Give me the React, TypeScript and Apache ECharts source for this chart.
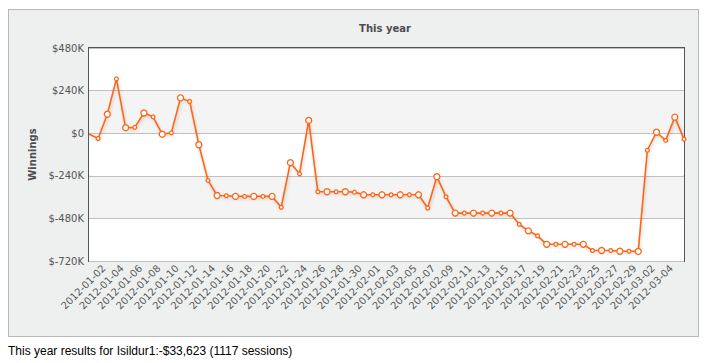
import React, { useEffect, useRef } from "react";
import * as echarts from "echarts";

const categories: string[] = [
  "2011-12-31",
  "2012-01-01", "2012-01-02", "2012-01-03", "2012-01-04", "2012-01-05", "2012-01-06", "2012-01-07", "2012-01-08",
  "2012-01-09", "2012-01-10", "2012-01-11", "2012-01-12", "2012-01-13", "2012-01-14", "2012-01-15", "2012-01-16",
  "2012-01-17", "2012-01-18", "2012-01-19", "2012-01-20", "2012-01-21", "2012-01-22", "2012-01-23", "2012-01-24",
  "2012-01-25", "2012-01-26", "2012-01-27", "2012-01-28", "2012-01-29", "2012-01-30", "2012-01-31",
  "2012-02-01", "2012-02-02", "2012-02-03", "2012-02-04", "2012-02-05", "2012-02-06", "2012-02-07", "2012-02-08",
  "2012-02-09", "2012-02-10", "2012-02-11", "2012-02-12", "2012-02-13", "2012-02-14", "2012-02-15", "2012-02-16",
  "2012-02-17", "2012-02-18", "2012-02-19", "2012-02-20", "2012-02-21", "2012-02-22", "2012-02-23", "2012-02-24",
  "2012-02-25", "2012-02-26", "2012-02-27", "2012-02-28", "2012-02-29",
  "2012-03-01", "2012-03-02", "2012-03-03", "2012-03-04", "2012-03-05",
];

const winnings: number[] = [
  -4000, -29500, 107000, 306000, 31000, 33000, 114000, 92000, -5500, 2000,
  199000, 179000, -65000, -266000, -351000, -352000, -356000, -356000, -356000, -356000,
  -356000, -417000, -166000, -229000, 72000, -330000, -330000, -330000, -330000, -332000,
  -347000, -347000, -347000, -347000, -347000, -347000, -347000, -421000, -245000, -358000,
  -450000, -450000, -450000, -450000, -450000, -450000, -450000, -513000, -550000, -578000,
  -626000, -626000, -626000, -626000, -626000, -661000, -661000, -661000, -665000, -665000,
  -666000, -96000, 5500, -40600, 90500, -33623,
];

const yTicks = { min: -720000, max: 480000, interval: 240000 };

const chartTitle = "This year";
const yAxisTitle = "Winnings";
const footerText = "This year results for Isildur1:-$33,623 (1117 sessions)";

const FONT = '"DejaVu Sans", Verdana, sans-serif';

export default function App() {
  const ref = useRef<HTMLDivElement>(null);

  useEffect(() => {
    if (!ref.current) return;
    const chart = echarts.init(ref.current, undefined, { renderer: "svg" });
    chart.setOption({
      animation: false,
      backgroundColor: "#eeefef",
      title: {
        text: chartTitle,
        left: 376,
        top: 13,
        padding: 0,
        textAlign: "center",
        textStyle: { fontFamily: FONT, fontSize: 10, fontWeight: "bold", color: "#4d4d4d" },
      },
      grid: {
        left: 80,
        right: 14,
        top: 38,
        height: 213,
        show: true,
        backgroundColor: "#ffffff",
        borderColor: "#555555",
        borderWidth: 2,
        containLabel: false,
      },
      xAxis: {
        type: "category",
        data: categories,
        boundaryGap: false,
        axisLine: { show: false },
        axisTick: { show: false },
        splitLine: { show: false },
        axisLabel: {
          rotate: 45,
          interval: (index: number) => index > 0 && index % 2 === 0,
          margin: 9,
          align: "right",
          verticalAlign: "bottom",
          fontFamily: FONT,
          fontSize: 10,
          color: "#5a5a5a",
        },
      },
      yAxis: {
        type: "value",
        min: yTicks.min,
        max: yTicks.max,
        interval: yTicks.interval,
        name: yAxisTitle,
        nameLocation: "middle",
        nameGap: 51,
        nameRotate: 90,
        nameTextStyle: { fontFamily: FONT, fontSize: 10, fontWeight: "bold", color: "#4d4d4d" },
        axisLine: { show: false },
        axisTick: { show: false },
        splitLine: { show: true, lineStyle: { color: "#c0c0c0", width: 1 } },
        splitArea: { show: true, areaStyle: { color: ["#ffffff", "#f4f4f4"] } },
        axisLabel: {
          margin: 5,
          fontFamily: FONT,
          fontSize: 10,
          color: "#555555",
          formatter: (v: number) => (v === 0 ? "$0" : "$" + v / 1000 + "K"),
        },
      },
      series: [
        {
          type: "line",
          data: winnings,
          symbol: "circle",
          symbolSize: (_v: number, p: any) => (p.dataIndex === 0 ? 0 : p.dataIndex % 2 === 0 ? 6 : 3.8),
          showAllSymbol: true,
          lineStyle: {
            color: "#ff6414",
            width: 1.6,
            shadowColor: "rgba(0,0,0,0.18)",
            shadowBlur: 3,
            shadowOffsetX: 1,
            shadowOffsetY: 2,
          },
          itemStyle: { color: "#ffffff", borderColor: "#ff6414", borderWidth: 1.3 },
          z: 3,
        },
      ],
    });
    return () => chart.dispose();
  }, []);

  return (
    <div>
      <div
        style={{
          width: 691,
          height: 328,
          marginTop: 1,
          border: "1px solid #b8b8b8",
          boxSizing: "border-box",
          background: "#eeefef",
        }}
      >
        <div ref={ref} style={{ width: 689, height: 326 }} />
      </div>
      <div
        style={{
          marginTop: 7,
          fontFamily: '"Liberation Sans", Arial, Helvetica, sans-serif',
          fontSize: 12,
          color: "#000",
          lineHeight: "14px",
        }}
      >
        {footerText}
      </div>
    </div>
  );
}
